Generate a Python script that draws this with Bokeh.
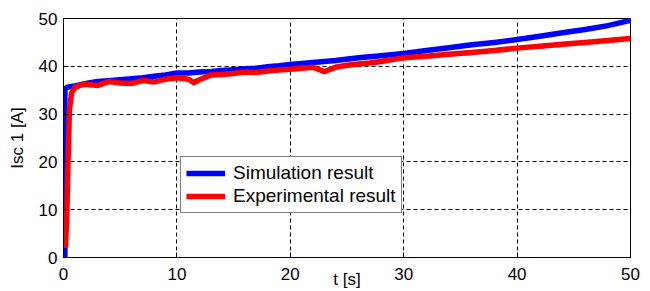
from bokeh.plotting import figure
from bokeh.models import Range1d, FixedTicker, Legend, LegendItem
from bokeh.embed import file_html
from bokeh.resources import INLINE

# Simulation result (blue)
t_sim = [0.12, 0.12, 0.3, 1, 2, 3, 4, 5, 6, 7, 8, 9, 10, 11, 12, 13, 14, 15, 16, 17,
         18, 19, 20, 22, 24, 26, 28, 30, 32, 34, 36, 38, 40, 42, 44, 46, 48, 50]
i_sim = [0.0, 35.2, 35.6, 35.9, 36.4, 36.8, 37.0, 37.2, 37.4, 37.6, 37.9, 38.2, 38.6, 38.6,
         38.8, 38.9, 39.1, 39.3, 39.5, 39.6, 39.9, 40.1, 40.4, 40.8, 41.2, 41.8, 42.2, 42.7,
         43.3, 43.9, 44.5, 45.0, 45.6, 46.3, 47.0, 47.7, 48.5, 49.6]

# Experimental result (red)
t_exp = [0.15, 0.18, 0.3, 0.4, 0.52, 0.7, 1.0, 1.8, 3, 4, 5, 6, 7, 8, 9, 10, 11, 11.5, 12,
         13, 14, 15, 16, 17, 18, 19, 20, 21, 22, 23, 24, 25, 26, 27, 28, 29, 30, 32, 34, 36,
         38, 40, 42, 44, 46, 48, 50]
i_exp = [2.0, 2.5, 9.8, 20.3, 30.8, 34.3, 35.6, 36.3, 36.0, 36.8, 36.5, 36.4, 37.0, 36.7,
         37.3, 37.6, 37.3, 36.6, 37.2, 38.2, 38.3, 38.5, 38.8, 38.7, 39.0, 39.2, 39.4, 39.6,
         39.8, 38.9, 39.8, 40.2, 40.5, 40.7, 41.0, 41.4, 41.8, 42.1, 42.5, 42.9, 43.3, 43.8,
         44.2, 44.6, 45.0, 45.4, 45.8]

x_ticks = [0, 10, 20, 30, 40, 50]
y_ticks = [0, 10, 20, 30, 40, 50]
labels = ["Simulation result", "Experimental result"]
x_title = "t [s]"
y_title = "Isc 1 [A]"

FONT = "Liberation Sans"

p = figure(width=650, height=291, output_backend="svg", toolbar_location=None,
           x_range=Range1d(0, 50), y_range=Range1d(0, 50),
           min_border_left=63, min_border_right=20, min_border_top=18, min_border_bottom=34,
           background_fill_color="white", border_fill_color="white")

p.outline_line_color = "black"
p.outline_line_width = 1
p.outline_line_alpha = 1

r1 = p.line(t_sim, i_sim, line_color="#0000ff", line_width=5.5, line_join="miter")
r2 = p.line(t_exp, i_exp, line_color="#ff0000", line_width=5.5, line_join="miter")

for ax in (p.xaxis[0], p.yaxis[0]):
    ax.axis_line_color = "black"
    ax.major_tick_in = 5
    ax.major_tick_out = 0
    ax.minor_tick_line_color = None
    ax.major_tick_line_color = "black"
    ax.major_label_text_font = FONT
    ax.major_label_text_font_size = "17px"
    ax.major_label_text_color = "black"
    ax.axis_label_text_font = FONT
    ax.axis_label_text_font_size = "17px"
    ax.axis_label_text_font_style = "normal"
    ax.axis_label_text_color = "black"

p.xaxis[0].ticker = FixedTicker(ticks=x_ticks)
p.yaxis[0].ticker = FixedTicker(ticks=y_ticks)
p.xaxis[0].major_label_standoff = 10
p.yaxis[0].major_label_standoff = 6
p.xaxis[0].axis_label = x_title
p.xaxis[0].axis_label_standoff = -13
p.yaxis[0].axis_label = y_title
p.yaxis[0].axis_label_standoff = 9

for g in (p.xgrid[0], p.ygrid[0]):
    g.grid_line_color = "black"
    g.grid_line_dash = "4 3"
    g.grid_line_width = 1
    g.grid_line_alpha = 1

legend = Legend(items=[LegendItem(label=labels[0], renderers=[r1]),
                       LegendItem(label=labels[1], renderers=[r2])],
                location=(117, 44))
legend.label_text_font = FONT
legend.label_text_font_size = "19px"
legend.label_text_color = "black"
legend.glyph_width = 39
legend.glyph_height = 22
legend.label_height = 22
legend.label_standoff = 8
legend.spacing = 1
legend.padding = 5
legend.margin = 0
legend.border_line_color = "black"
legend.border_line_width = 1
legend.background_fill_color = "white"
legend.background_fill_alpha = 1
p.add_layout(legend, "center")

open("out.html", "w").write(file_html(p, INLINE))
